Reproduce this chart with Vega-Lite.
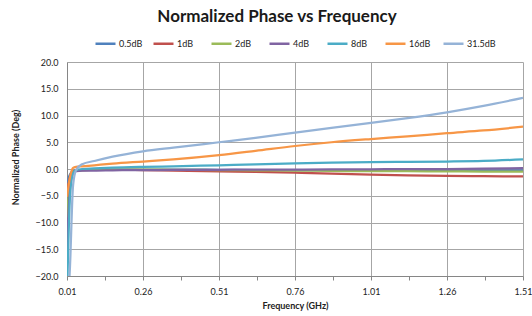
{
  "$schema": "https://vega.github.io/schema/vega-lite/v6.json",
  "width": 456,
  "height": 214,
  "autosize": "none",
  "padding": {"left": 67, "top": 62, "right": 9, "bottom": 40},
  "background": "white",
  "title": {
    "text": "Normalized Phase vs Frequency",
    "font": "Lato",
    "fontSize": 17,
    "fontWeight": "bold",
    "color": "#1a1a1a",
    "anchor": "middle",
    "dx": -18,
    "offset": 6
  },
  "data": {
    "values": [
      {"f": 0.01, "s": "0.5dB", "v": -2.6}, {"f": 0.02, "s": "0.5dB", "v": -1.0}, {"f": 0.03, "s": "0.5dB", "v": -0.4}, {"f": 0.04, "s": "0.5dB", "v": -0.3}, {"f": 0.06, "s": "0.5dB", "v": -0.2}, {"f": 0.1, "s": "0.5dB", "v": -0.15}, {"f": 0.16, "s": "0.5dB", "v": -0.1}, {"f": 0.26, "s": "0.5dB", "v": -0.1}, {"f": 0.36, "s": "0.5dB", "v": -0.1}, {"f": 0.51, "s": "0.5dB", "v": -0.15}, {"f": 0.63, "s": "0.5dB", "v": -0.2}, {"f": 0.76, "s": "0.5dB", "v": -0.2}, {"f": 0.88, "s": "0.5dB", "v": -0.25}, {"f": 1.01, "s": "0.5dB", "v": -0.3}, {"f": 1.13, "s": "0.5dB", "v": -0.3}, {"f": 1.26, "s": "0.5dB", "v": -0.3}, {"f": 1.38, "s": "0.5dB", "v": -0.3}, {"f": 1.51, "s": "0.5dB", "v": -0.25},
      {"f": 0.01, "s": "1dB", "v": -4.5}, {"f": 0.02, "s": "1dB", "v": -1.5}, {"f": 0.03, "s": "1dB", "v": -0.5}, {"f": 0.04, "s": "1dB", "v": -0.3}, {"f": 0.06, "s": "1dB", "v": -0.2}, {"f": 0.1, "s": "1dB", "v": -0.15}, {"f": 0.16, "s": "1dB", "v": -0.15}, {"f": 0.26, "s": "1dB", "v": -0.2}, {"f": 0.36, "s": "1dB", "v": -0.3}, {"f": 0.51, "s": "1dB", "v": -0.45}, {"f": 0.63, "s": "1dB", "v": -0.55}, {"f": 0.76, "s": "1dB", "v": -0.7}, {"f": 0.88, "s": "1dB", "v": -0.85}, {"f": 1.01, "s": "1dB", "v": -1.05}, {"f": 1.13, "s": "1dB", "v": -1.2}, {"f": 1.26, "s": "1dB", "v": -1.3}, {"f": 1.38, "s": "1dB", "v": -1.35}, {"f": 1.51, "s": "1dB", "v": -1.4},
      {"f": 0.01, "s": "2dB", "v": -9.0}, {"f": 0.02, "s": "2dB", "v": -2.5}, {"f": 0.03, "s": "2dB", "v": -0.6}, {"f": 0.04, "s": "2dB", "v": -0.3}, {"f": 0.06, "s": "2dB", "v": -0.2}, {"f": 0.1, "s": "2dB", "v": -0.1}, {"f": 0.16, "s": "2dB", "v": -0.1}, {"f": 0.26, "s": "2dB", "v": -0.1}, {"f": 0.36, "s": "2dB", "v": -0.15}, {"f": 0.51, "s": "2dB", "v": -0.2}, {"f": 0.63, "s": "2dB", "v": -0.25}, {"f": 0.76, "s": "2dB", "v": -0.3}, {"f": 0.88, "s": "2dB", "v": -0.35}, {"f": 1.01, "s": "2dB", "v": -0.4}, {"f": 1.13, "s": "2dB", "v": -0.42}, {"f": 1.26, "s": "2dB", "v": -0.45}, {"f": 1.38, "s": "2dB", "v": -0.48}, {"f": 1.51, "s": "2dB", "v": -0.5},
      {"f": 0.01, "s": "4dB", "v": -15.0}, {"f": 0.02, "s": "4dB", "v": -3.5}, {"f": 0.03, "s": "4dB", "v": -0.8}, {"f": 0.04, "s": "4dB", "v": -0.4}, {"f": 0.06, "s": "4dB", "v": -0.3}, {"f": 0.1, "s": "4dB", "v": -0.3}, {"f": 0.16, "s": "4dB", "v": -0.25}, {"f": 0.26, "s": "4dB", "v": -0.2}, {"f": 0.36, "s": "4dB", "v": -0.18}, {"f": 0.51, "s": "4dB", "v": -0.15}, {"f": 0.63, "s": "4dB", "v": -0.12}, {"f": 0.76, "s": "4dB", "v": -0.1}, {"f": 0.88, "s": "4dB", "v": -0.08}, {"f": 1.01, "s": "4dB", "v": -0.05}, {"f": 1.13, "s": "4dB", "v": -0.02}, {"f": 1.26, "s": "4dB", "v": 0.0}, {"f": 1.38, "s": "4dB", "v": 0.05}, {"f": 1.51, "s": "4dB", "v": 0.15},
      {"f": 0.01, "s": "8dB", "v": -24.0}, {"f": 0.02, "s": "8dB", "v": -5.0}, {"f": 0.03, "s": "8dB", "v": -0.8}, {"f": 0.04, "s": "8dB", "v": -0.2}, {"f": 0.06, "s": "8dB", "v": 0.0}, {"f": 0.1, "s": "8dB", "v": 0.1}, {"f": 0.16, "s": "8dB", "v": 0.25}, {"f": 0.26, "s": "8dB", "v": 0.4}, {"f": 0.36, "s": "8dB", "v": 0.5}, {"f": 0.51, "s": "8dB", "v": 0.7}, {"f": 0.63, "s": "8dB", "v": 0.85}, {"f": 0.76, "s": "8dB", "v": 1.05}, {"f": 0.88, "s": "8dB", "v": 1.2}, {"f": 1.01, "s": "8dB", "v": 1.3}, {"f": 1.13, "s": "8dB", "v": 1.35}, {"f": 1.26, "s": "8dB", "v": 1.4}, {"f": 1.38, "s": "8dB", "v": 1.5}, {"f": 1.51, "s": "8dB", "v": 1.8},
      {"f": 0.01, "s": "16dB", "v": -5.2}, {"f": 0.02, "s": "16dB", "v": -1.5}, {"f": 0.03, "s": "16dB", "v": 0.2}, {"f": 0.04, "s": "16dB", "v": 0.4}, {"f": 0.06, "s": "16dB", "v": 0.5}, {"f": 0.1, "s": "16dB", "v": 0.7}, {"f": 0.16, "s": "16dB", "v": 1.0}, {"f": 0.26, "s": "16dB", "v": 1.4}, {"f": 0.36, "s": "16dB", "v": 1.8}, {"f": 0.51, "s": "16dB", "v": 2.6}, {"f": 0.63, "s": "16dB", "v": 3.4}, {"f": 0.76, "s": "16dB", "v": 4.3}, {"f": 0.88, "s": "16dB", "v": 5.0}, {"f": 1.01, "s": "16dB", "v": 5.6}, {"f": 1.13, "s": "16dB", "v": 6.1}, {"f": 1.26, "s": "16dB", "v": 6.7}, {"f": 1.38, "s": "16dB", "v": 7.2}, {"f": 1.51, "s": "16dB", "v": 7.9},
      {"f": 0.01, "s": "31.5dB", "v": -30.0}, {"f": 0.02, "s": "31.5dB", "v": -18.0}, {"f": 0.03, "s": "31.5dB", "v": -3.0}, {"f": 0.04, "s": "31.5dB", "v": -0.2}, {"f": 0.06, "s": "31.5dB", "v": 0.9}, {"f": 0.1, "s": "31.5dB", "v": 1.5}, {"f": 0.16, "s": "31.5dB", "v": 2.3}, {"f": 0.26, "s": "31.5dB", "v": 3.3}, {"f": 0.36, "s": "31.5dB", "v": 4.0}, {"f": 0.51, "s": "31.5dB", "v": 5.0}, {"f": 0.63, "s": "31.5dB", "v": 5.8}, {"f": 0.76, "s": "31.5dB", "v": 6.8}, {"f": 0.88, "s": "31.5dB", "v": 7.7}, {"f": 1.01, "s": "31.5dB", "v": 8.6}, {"f": 1.13, "s": "31.5dB", "v": 9.5}, {"f": 1.26, "s": "31.5dB", "v": 10.6}, {"f": 1.38, "s": "31.5dB", "v": 11.8}, {"f": 1.51, "s": "31.5dB", "v": 13.3}
    ]
  },
  "mark": {"type": "line", "strokeWidth": 2.25, "clip": true, "interpolate": "monotone"},
  "encoding": {
    "x": {
      "field": "f",
      "type": "quantitative",
      "scale": {"domain": [0.01, 1.51], "nice": false, "zero": false},
      "axis": {
        "title": "Frequency  (GHz)",
        "values": [0.01, 0.135, 0.26, 0.385, 0.51, 0.635, 0.76, 0.885, 1.01, 1.135, 1.26, 1.385, 1.51],
        "format": ".2f",
        "labelExpr": "abs((datum.value - 0.01) / 0.25 - round((datum.value - 0.01) / 0.25)) < 0.01 ? format(datum.value, '.2f') : ''",
        "gridOpacity": {"condition": {"test": "abs((datum.value - 0.01) / 0.25 - round((datum.value - 0.01) / 0.25)) < 0.01", "value": 1}, "value": 0},
        "grid": true,
        "gridColor": "#a6a6a6",
        "domainColor": "#868686",
        "tickColor": "#868686",
        "tickSize": 4,
        "labelFlush": false,
        "labelOverlap": false,
        "labelPadding": 7,
        "labelFontSize": 9,
        "labelFont": "Lato",
        "labelColor": "#222222",
        "titleFont": "Lato",
        "titleFontSize": 9,
        "titleFontWeight": "bold",
        "titleColor": "#222222",
        "titlePadding": 5
      }
    },
    "y": {
      "field": "v",
      "type": "quantitative",
      "scale": {"domain": [-20, 20], "nice": false},
      "axis": {
        "title": "Normalized Phase  (Deg)",
        "values": [-20, -15, -10, -5, 0, 5, 10, 15, 20],
        "format": ".1f",
        "grid": true,
        "gridColor": "#a6a6a6",
        "domainColor": "#868686",
        "ticks": false,
        "labelFlush": false,
        "labelPadding": 9,
        "labelFontSize": 9,
        "labelFont": "Lato",
        "labelColor": "#222222",
        "titleFont": "Lato",
        "titleFontSize": 9,
        "titleFontWeight": "bold",
        "titleColor": "#222222",
        "titlePadding": 14,
        "titleY": 95
      }
    },
    "color": {
      "field": "s",
      "type": "nominal",
      "scale": {
        "domain": ["0.5dB", "1dB", "2dB", "4dB", "8dB", "16dB", "31.5dB"],
        "range": ["#4F81BD", "#C0504D", "#9BBB59", "#8064A2", "#4BACC6", "#F79646", "#95B3D7"]
      },
      "legend": {
        "title": null,
        "orient": "none",
        "direction": "horizontal",
        "legendX": 27,
        "legendY": -30,
        "symbolType": "stroke",
        "symbolSize": 400,
        "symbolStrokeWidth": 2.5,
        "labelOffset": 2,
        "labelFont": "Lato",
        "labelFontSize": 9,
        "labelColor": "#222222",
        "gridAlign": "all",
        "columnPadding": 0
      }
    }
  },
  "config": {"view": {"stroke": null}}
}
